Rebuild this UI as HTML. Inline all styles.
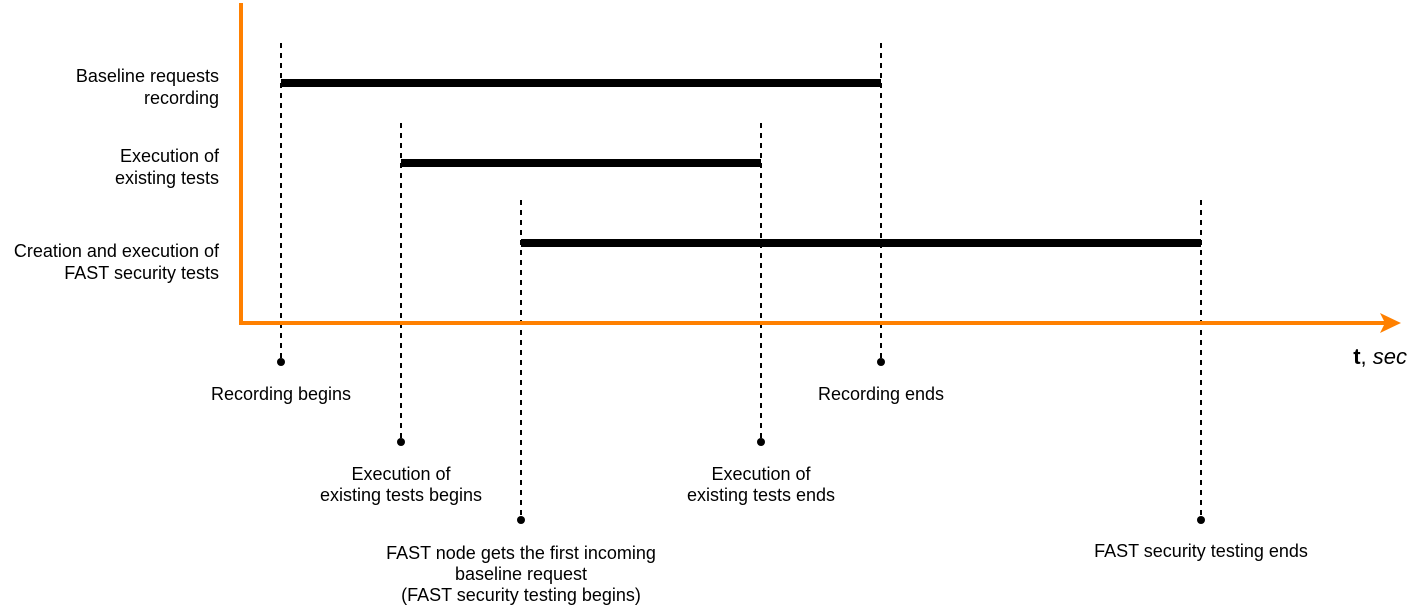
<!DOCTYPE html>
<html><head><meta charset="utf-8"><style>
html,body{margin:0;padding:0;background:#fff;}
svg{display:block;}
text{font-family:"Liberation Sans",Arial,sans-serif;font-size:18px;fill:#000;}
</style></head><body>
<svg width="1423" height="606" viewBox="0 0 1423 606">
<g stroke="#000" stroke-width="2" stroke-dasharray="5 5" fill="none">
<line x1="281" y1="43" x2="281" y2="360"/>
<line x1="881" y1="43" x2="881" y2="360"/>
<line x1="401" y1="123" x2="401" y2="440"/>
<line x1="761" y1="123" x2="761" y2="440"/>
<line x1="521" y1="200" x2="521" y2="518"/>
<line x1="1201" y1="200" x2="1201" y2="518"/>
</g>
<g fill="#000">
<circle cx="281" cy="362" r="4"/>
<circle cx="881" cy="362" r="4"/>
<circle cx="401" cy="442" r="4"/>
<circle cx="761" cy="442" r="4"/>
<circle cx="521" cy="520" r="4"/>
<circle cx="1201" cy="520" r="4"/>
</g>
<g stroke="#000" stroke-width="8">
<line x1="281" y1="83" x2="881" y2="83"/>
<line x1="401" y1="163" x2="761" y2="163"/>
<line x1="521" y1="243" x2="1201" y2="243"/>
</g>
<line x1="241" y1="3" x2="241" y2="325" stroke="#ff8000" stroke-width="4"/>
<line x1="239" y1="323" x2="1385" y2="323" stroke="#ff8000" stroke-width="4"/>
<polygon points="1380,313 1401,323 1380,333 1385,323" fill="#ff8000"/>
<g text-anchor="end">
<text x="219" y="82">Baseline requests</text>
<text x="219" y="104">recording</text>
<text x="219" y="162">Execution of</text>
<text x="219" y="184">existing tests</text>
<text x="219" y="257">Creation and execution of</text>
<text x="219" y="279">FAST security tests</text>
<text x="1407" y="364" style="font-size:22px"><tspan font-weight="bold">t</tspan>, <tspan font-style="italic">sec</tspan></text>
</g>
<g text-anchor="middle">
<text x="281" y="400">Recording begins</text>
<text x="881" y="400">Recording ends</text>
<text x="401" y="480">Execution of</text>
<text x="401" y="501">existing tests begins</text>
<text x="761" y="480">Execution of</text>
<text x="761" y="501">existing tests ends</text>
<text x="521" y="559">FAST node gets the first incoming</text>
<text x="521" y="580">baseline request</text>
<text x="521" y="601">(FAST security testing begins)</text>
<text x="1201" y="557">FAST security testing ends</text>
</g>
</svg>
</body></html>
